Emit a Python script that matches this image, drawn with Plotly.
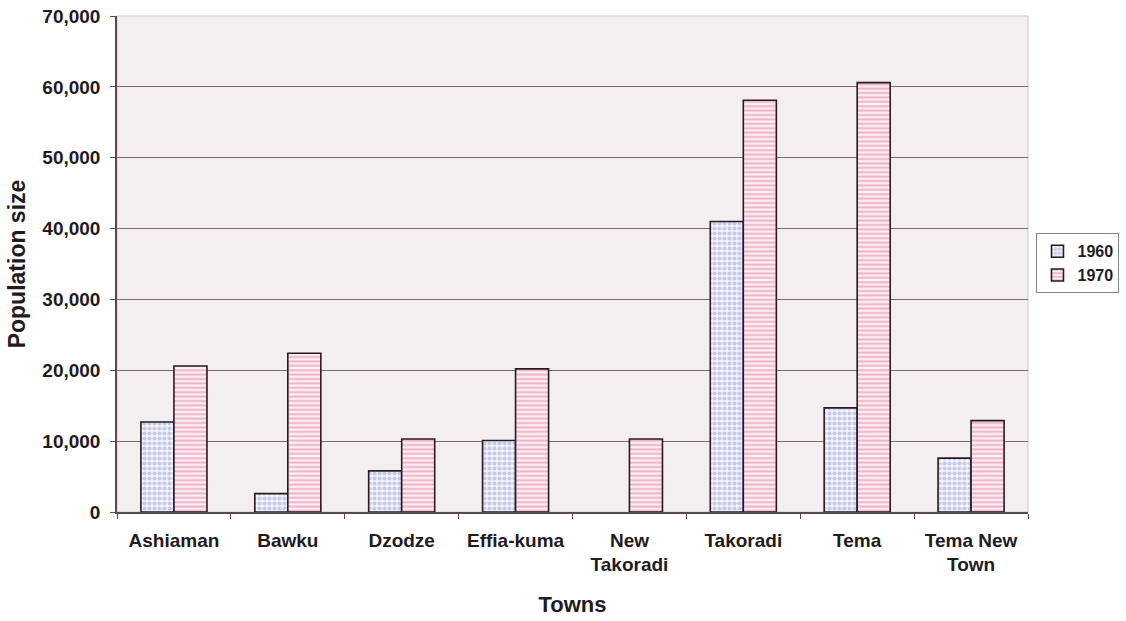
import plotly.graph_objects as go

towns = ["Ashiaman", "Bawku", "Dzodze", "Effia-kuma", "New<br>Takoradi",
         "Takoradi", "Tema", "Tema New<br>Town"]
pop_1960 = [12700, 2600, 5800, 10100, None, 41000, 14700, 7600]
pop_1970 = [20600, 22400, 10300, 20200, 10300, 58100, 60600, 12900]
y_ticks = [0, 10000, 20000, 30000, 40000, 50000, 60000, 70000]

FONT = "Liberation Sans, Arial, sans-serif"
outline = dict(color="#2a1a22", width=1.6)

fig = go.Figure()
fig.add_trace(go.Bar(
    name="1960", x=towns, y=pop_1960,
    marker=dict(color="#f4f4fb", line=outline,
                pattern=dict(shape=".", fgcolor="#93a0d6", bgcolor="#f4f4fb",
                             size=5, solidity=0.55)),
))
fig.add_trace(go.Bar(
    name="1970", x=towns, y=pop_1970,
    marker=dict(color="#fbeef3", line=outline,
                pattern=dict(shape="-", fgcolor="#e2709a", bgcolor="#fbeef3",
                             size=4.4, solidity=0.42)),
))

fig.update_layout(
    width=1126, height=621,
    margin=dict(l=117, r=98, t=16, b=109, autoexpand=False),
    paper_bgcolor="white",
    plot_bgcolor="#f3eff1",
    barmode="group", bargap=0.42, bargroupgap=0,
    font=dict(family=FONT, color="#231a1e"),
    legend=dict(
        xref="container", yref="container",
        x=0.9205, y=0.576, xanchor="left", yanchor="middle",
        bgcolor="white", bordercolor="#8a8286", borderwidth=1,
        font=dict(family=FONT, size=16, color="#231a1e", weight="bold"),
        itemwidth=30, tracegroupgap=4,
    ),
    xaxis=dict(
        type="category", automargin=False,
        tickfont=dict(family=FONT, size=19, weight="bold", color="#231a1e"),
        showline=True, linecolor="#5a4a50", linewidth=1.5,
        ticks="outside", tickson="boundaries", ticklen=5, tickcolor="#5a4a50",
        ticklabelstandoff=10,
        showgrid=False,
        title=dict(text="Towns", standoff=22,
                   font=dict(family=FONT, size=22, weight="bold", color="#231a1e")),
    ),
    yaxis=dict(
        range=[0, 70000], tickvals=y_ticks, tickformat=",", automargin=False,
        tickfont=dict(family=FONT, size=19, weight="bold", color="#231a1e"),
        showline=True, linecolor="#5a4a50", linewidth=1.5,
        ticks="outside", ticklen=5, tickcolor="#5a4a50",
        ticklabelstandoff=6,
        showgrid=True, gridcolor="#7d6d72", gridwidth=1,
        zeroline=False,
        title=dict(text="Population size", standoff=10,
                   font=dict(family=FONT, size=23, weight="bold", color="#231a1e")),
    ),
    shapes=[dict(type="rect", xref="paper", yref="paper", x0=0, y0=0, x1=1, y1=1,
                 line=dict(color="#cfc7cb", width=1), layer="below")],
)

fig.write_html("out.html")
